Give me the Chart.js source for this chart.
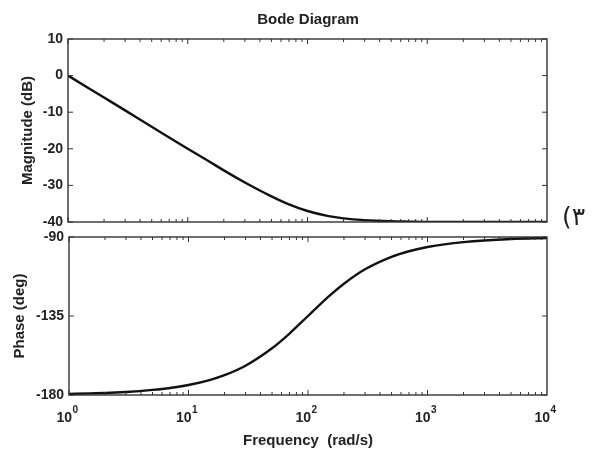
<!DOCTYPE html>
<html>
<head>
<meta charset="utf-8">
<title>Bode Diagram</title>
<script src="https://cdn.jsdelivr.net/npm/chart.js@4/dist/chart.umd.min.js"></script>
<style>
  html, body { margin: 0; padding: 0; background: #fff; }
  #wrap { position: relative; width: 595px; height: 450px; overflow: hidden; }
  #wrap canvas { position: absolute; left: 0; top: 0; }
  #title { position: absolute; left: 0; width: 616px; top: 10px; text-align: center;
           font: bold 15px "Liberation Sans", Arial, sans-serif; color: #222; }
  #qnum { position: absolute; left: 562px; top: 202px; font: 25px "DejaVu Sans", sans-serif; color: #222; direction: ltr; }
</style>
</head>
<body>
<div id="wrap">
  <canvas id="mag" width="595" height="450"></canvas>
  <canvas id="phase" width="595" height="450"></canvas>
  <div id="title">Bode Diagram</div>
  <div id="qnum">(&#x06F3;</div>
</div>
<script>
/* ── DATA ── */
const freq      = [1, 1.5, 2, 3, 5, 7, 10, 15, 20, 30, 50, 70, 100, 150, 200, 300, 500, 700, 1000, 2000, 5000, 10000];
const magDb     = [0, -3.5, -6, -9.5, -14, -16.9, -20, -23.4, -25.9, -29.2, -33, -35.2, -37, -38.4, -39, -39.5, -39.8, -39.9, -40, -40, -40, -40];
const phaseDeg  = [-179.4, -179.1, -178.9, -178.3, -177.1, -176, -174.3, -171.5, -168.7, -163.3, -153.4, -145, -135, -123.7, -116.6, -108.4, -101.3, -98.1, -95.7, -92.9, -91.1, -90.6];
const freqTicks = [1, 10, 100, 1000, 10000];
const freqTickExp = ['0', '1', '2', '3', '4'];
const magTicks  = [10, 0, -10, -20, -30, -40];
const phaseTicks = [-90, -135, -180];

(function() {
    'use strict';

    const FAMILY = '"Liberation Sans", Arial, sans-serif';
    const TICK_FONT  = { family: FAMILY, size: 14, weight: 'bold' };
    const LABEL_FONT = { family: FAMILY, size: 15, weight: 'bold' };
    const INK  = '#222';

    /* frame + inward tick marks, MATLAB style */
    const framePlugin = {
        id: 'frame',
        afterDraw(chart, args, opts) {
            const { ctx, chartArea: a, scales } = chart;
            const xs = scales.x, ys = scales.y;
            ctx.save();
            ctx.strokeStyle = '#333';
            ctx.lineWidth = 1.4;
            ctx.strokeRect(a.left, a.top, a.right - a.left, a.bottom - a.top);
            ctx.lineWidth = 1;
            ctx.beginPath();
            for (let d = 1; d < 10000; d *= 10) {
                for (let m = 1; m < 10; m++) {
                    const px = xs.getPixelForValue(d * m);
                    const len = m === 1 ? 5 : 3;
                    ctx.moveTo(px, a.bottom); ctx.lineTo(px, a.bottom - len);
                    ctx.moveTo(px, a.top);    ctx.lineTo(px, a.top + len);
                }
            }
            ys.ticks.forEach(t => {
                const py = ys.getPixelForValue(t.value);
                ctx.moveTo(a.left, py);  ctx.lineTo(a.left + 5, py);
                ctx.moveTo(a.right, py); ctx.lineTo(a.right - 5, py);
            });
            ctx.stroke();

            /* decade labels 10^n, placed from the x scale */
            if (opts.decadeLabels) {
                ctx.fillStyle = INK;
                ctx.textBaseline = 'middle';
                freqTicks.forEach((v, i) => {
                    const px = xs.getPixelForValue(v);
                    ctx.font = `bold 14px ${FAMILY}`;
                    ctx.textAlign = 'right';
                    ctx.fillText('10', px + 3, a.bottom + 23);
                    ctx.font = `bold 10px ${FAMILY}`;
                    ctx.textAlign = 'left';
                    ctx.fillText(freqTickExp[i], px + 3.5, a.bottom + 15);
                });
            }
            ctx.restore();
        }
    };

    const xy = vals => freq.map((f, i) => ({ x: f, y: vals[i] }));

    function lineDataset(vals) {
        return {
            data: xy(vals),
            borderColor: '#111',
            borderWidth: 2.4,
            pointRadius: 0,
            cubicInterpolationMode: 'monotone',
            fill: false
        };
    }

    function xScale(showLabels) {
        return {
            type: 'logarithmic',
            min: 1, max: 10000,
            display: showLabels,
            afterBuildTicks: s => { s.ticks = freqTicks.map(v => ({ value: v })); },
            afterFit: s => { if (showLabels) s.height = 55; },
            grid: { display: false, drawTicks: false },
            border: { display: false },
            ticks: { display: false },
            title: {
                display: showLabels, text: 'Frequency  (rad/s)', color: INK,
                font: LABEL_FONT, padding: { top: 6, bottom: 0 }
            }
        };
    }

    function yScale(min, max, tickVals, label, width, titlePad) {
        return {
            type: 'linear',
            min, max,
            afterBuildTicks: s => { s.ticks = tickVals.map(v => ({ value: v })); },
            afterFit: s => { s.width = width; },
            grid: { display: false, drawTicks: false },
            border: { display: false },
            ticks: { padding: 5, color: INK, font: TICK_FONT, autoSkip: false },
            title: { display: true, text: label, color: INK, font: LABEL_FONT, padding: { top: titlePad, bottom: 0 } }
        };
    }

    function makeChart(id, vals, yOpts, pad, showX) {
        return new Chart(document.getElementById(id), {
            type: 'line',
            data: { datasets: [lineDataset(vals)] },
            options: {
                responsive: false,
                animation: false,
                layout: { padding: pad },
                plugins: {
                    legend: { display: false },
                    tooltip: { enabled: false },
                    frame: { decadeLabels: showX }
                },
                scales: { x: xScale(showX), y: yOpts }
            },
            plugins: [framePlugin]
        });
    }

    /* ── MAGNITUDE ── */
    makeChart('mag', magDb,
        yScale(-40, 10, magTicks, 'Magnitude (dB)', 68, 19),
        { top: 39, right: 48, bottom: 228, left: 0 }, false);

    /* ── PHASE ── */
    makeChart('phase', phaseDeg,
        yScale(-180, -90, phaseTicks, 'Phase (deg)', 69, 11),
        { top: 237, right: 48, bottom: 0, left: 0 }, true);
})();
</script>
</body>
</html>
